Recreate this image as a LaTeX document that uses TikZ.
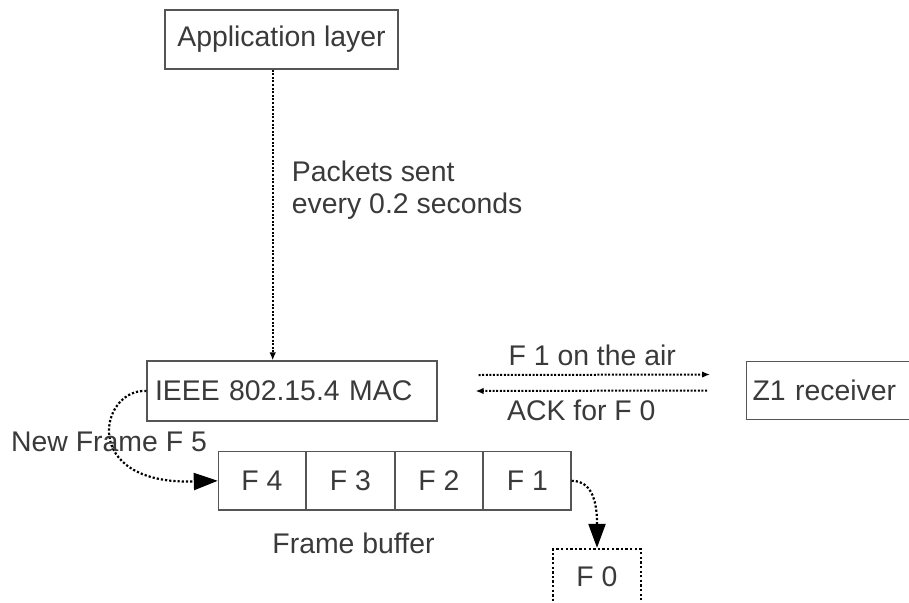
\documentclass[tikz,border=0pt]{standalone}
\usepackage{fontspec}
\setmainfont{Liberation Sans}
\usetikzlibrary{arrows.meta,positioning}
\definecolor{ink}{HTML}{3A3A3A}
\definecolor{edge}{HTML}{555555}
\tikzset{
  box/.style={draw=edge, line width=1.1pt, inner sep=0pt, text=ink,
    font=\fontsize{28.4}{32}\selectfont},
  cell/.style={box, minimum width=87.35pt, minimum height=58.3pt},
  lbl/.style={text=ink, inner sep=0pt, font=\fontsize{28.4}{31.5}\selectfont},
  dots/.style={line width=2pt, dash pattern=on 2pt off 1.6pt},
  thinflow/.style={dots, -{Latex[length=8pt,width=6.5pt]}},
  bigflow/.style={dots, line width=2.2pt, dash pattern=on 2.2pt off 2pt,
    -{Triangle[length=24pt,width=17pt]}},
}
\begin{document}
\begin{tikzpicture}[x=1pt,y=-1pt]
  \useasboundingbox (0,0) rectangle (909,602);
  \clip (0,0) rectangle (909,602);

  % layers and receiver
  \node[box, minimum width=233pt, minimum height=59pt] (app) at (281.5,39.5)
    {Application layer};
  \node[box, minimum height=60pt, text width=274pt, inner xsep=8pt, align=left]
    (mac) at (292,391) {IEEE 802.15.4 MAC};
  \node[box, minimum height=57.5pt, text width=170pt, inner xsep=6pt, align=left,
    anchor=west] (z1) at (746,390.5) {Z1 receiver};

  % frame buffer cells
  \node[cell] (f4) at (262.0,480.8) {F 4};
  \node[cell, right=0pt of f4] (f3) {F 3};
  \node[cell, right=0pt of f3] (f2) {F 2};
  \node[cell, right=0pt of f2] (f1) {F 1};
  \node[lbl] (fb) at (353.5,543) {Frame buffer};

  % frame that has left the buffer
  \node[box, draw=black, line width=2.3pt, dash pattern=on 2.3pt off 2.3pt,
    minimum width=87.4pt, minimum height=56pt] (f0) at (597,577) {F 0};

  % application to MAC
  \draw[thinflow] ([xshift=-8.8pt]app.south) -- ([xshift=-19.3pt]mac.north);
  \node[lbl, anchor=north west, align=left] (pk) at (291.7,161)
    {Packets sent\\every 0.2 seconds};

  % radio exchange
  \draw[thinflow] ([shift={(41,-16)}]mac.east) -- ([shift={(-36,-16)}]z1.west)
    node[lbl, midway, above=8pt, xshift=-2pt] (air) {F 1 on the air};
  \draw[thinflow] ([shift={(-39,0)}]z1.west) -- ([shift={(38,0)}]mac.east)
    node[lbl, midway, below=8pt, xshift=-10pt] (ack) {ACK for F 0};

  % new frame enters, oldest frame leaves
  \draw[bigflow] (mac.west) .. controls (100,388) and (78,485) .. (f4.west);
  \node[lbl] (nf) at (109,442) {New Frame F 5};
  \draw[bigflow] (f1.east) .. controls +(24,0) and +(0,-38) .. (f0.north);
\end{tikzpicture}
\end{document}
